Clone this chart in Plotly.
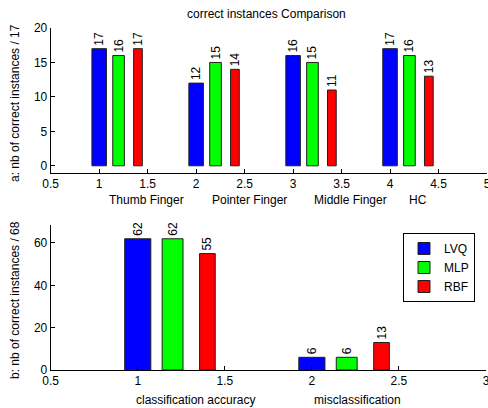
import plotly.graph_objects as go

# ---- data ----
series_names = ["LVQ", "MLP", "RBF"]
finger_groups = [1, 2, 3, 4]
finger_values = {
    "LVQ": [17, 12, 16, 17],
    "MLP": [16, 15, 15, 16],
    "RBF": [17, 14, 11, 13],
}
overall_groups = [1, 2]
overall_values = {
    "LVQ": [62, 6],
    "MLP": [62, 6],
    "RBF": [55, 13],
}
top_xlabels = ["Thumb Finger", "Pointer Finger", "Middle Finger", "HC"]
bottom_xlabels = ["classification accuracy", "misclassification"]

# ---- styles ----
colors = {"LVQ": "#0000FF", "MLP": "#00FF00", "RBF": "#FF0000"}
offsets = {"LVQ": 0.0, "MLP": 0.2, "RBF": 0.4}
widths = {"LVQ": 0.15, "MLP": 0.12, "RBF": 0.09}
FONT = "Liberation Sans, Arial, sans-serif"
W, H = 488, 408

def px_x(p):
    return p / W

def px_y(p):
    return 1 - p / H

fig = go.Figure()

for name in series_names:
    fig.add_trace(go.Bar(
        x=[g + offsets[name] for g in finger_groups],
        y=finger_values[name],
        width=widths[name],
        marker=dict(color=colors[name], line=dict(color="#202020", width=1)),
        text=[str(v) for v in finger_values[name]],
        textposition="outside", textangle=-90, constraintext="none",
        cliponaxis=False,
        textfont=dict(family=FONT, size=12, color="black"),
        name=name, showlegend=False, xaxis="x", yaxis="y",
    ))

for name in series_names:
    fig.add_trace(go.Bar(
        x=[g + offsets[name] for g in overall_groups],
        y=overall_values[name],
        width=widths[name],
        marker=dict(color=colors[name], line=dict(color="#202020", width=1)),
        text=[str(v) for v in overall_values[name]],
        textposition="outside", textangle=-90, constraintext="none",
        cliponaxis=False,
        textfont=dict(family=FONT, size=12, color="black"),
        name=name, showlegend=True, xaxis="x2", yaxis="y2",
    ))

axis_common = dict(
    showgrid=False, zeroline=False, showline=True, linecolor="black",
    linewidth=1, ticks="inside", ticklen=4, tickcolor="black",
    tickfont=dict(family=FONT, size=12, color="black"), mirror=False,
    automargin=False, ticklabeloverflow="allow",
)

fig.update_layout(
    width=W, height=H,
    margin=dict(l=0, r=0, t=0, b=0, autoexpand=False),
    paper_bgcolor="white", plot_bgcolor="white",
    barmode="overlay",
    font=dict(family=FONT, size=12, color="black"),
    xaxis=dict(domain=[px_x(50.7), px_x(487)], range=[0.5, 5],
               tickvals=[0.5, 1, 1.5, 2, 2.5, 3, 3.5, 4, 4.5, 5],
               ticktext=["0.5", "1", "1.5", "2", "2.5", "3", "3.5", "4", "4.5", "5"],
               anchor="y", **axis_common),
    yaxis=dict(domain=[px_y(172.7), px_y(28)], range=[-1, 20],
               tickvals=[0, 5, 10, 15, 20], anchor="x", **axis_common),
    xaxis2=dict(domain=[px_x(50.7), px_x(486)], range=[0.5, 3],
                tickvals=[0.5, 1, 1.5, 2, 2.5, 3],
                ticktext=["0.5", "1", "1.5", "2", "2.5", "3"],
                anchor="y2", **axis_common),
    yaxis2=dict(domain=[px_y(370), px_y(225)], range=[0, 68.5],
                tickvals=[0, 20, 40, 60], anchor="x2", **axis_common),
    legend=dict(x=px_x(403), y=px_y(233), xanchor="left", yanchor="top",
                bordercolor="black", borderwidth=1, bgcolor="white",
                font=dict(family=FONT, size=12, color="black"),
                tracegroupgap=0),
)

ann = [
    dict(text="correct instances Comparison", x=px_x(266), y=px_y(14)),
    dict(text="a: nb of correct instances / 17", x=px_x(15), y=px_y(103), textangle=-90),
    dict(text="b: nb of correct instances / 68", x=px_x(15), y=px_y(300), textangle=-90),
]
top_label_px = [146, 250, 350, 418]
for t, p in zip(top_xlabels, top_label_px):
    ann.append(dict(text=t, x=px_x(p), y=px_y(200)))
bottom_label_px = [195, 357]
for t, p in zip(bottom_xlabels, bottom_label_px):
    ann.append(dict(text=t, x=px_x(p), y=px_y(400)))

for a in ann:
    a.update(xref="paper", yref="paper", showarrow=False,
             xanchor="center", yanchor="middle",
             font=dict(family=FONT, size=12, color="black"))
fig.update_layout(annotations=ann)

fig.write_html(
    "out.html",
    config={"displayModeBar": False},
    post_script="document.body.style.margin='0';document.body.style.overflow='hidden';",
)
